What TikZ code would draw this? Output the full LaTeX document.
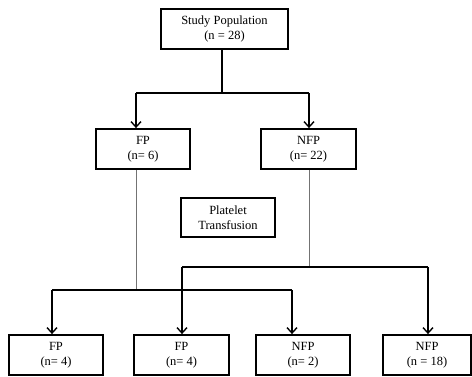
\documentclass[tikz,border=0pt]{standalone}
\usepackage{fontspec}
\setmainfont{Liberation Serif}
\usetikzlibrary{arrows.meta}
\begin{document}
\begin{tikzpicture}[x=1pt,y=-1pt,
  box/.style={draw=black,line width=1.8pt,minimum height=40pt,inner sep=0pt,
    align=center,font=\fontsize{12.5}{14.5}\selectfont},
  feed/.style={draw=black,line width=1.6pt},
  split/.style={draw=black!55,line width=0.9pt},
  arr/.style={feed,-{Straight Barb[length=5.5pt,width=10pt,line width=1.4pt]}}]
\useasboundingbox (0,0) rectangle (472,377);

% boxes
\node[box,minimum width=127pt] (pop) at (224.5,29) {Study Population\\(n = 28)};
\node[box,minimum width=94pt] (fp) at (143,149) {FP\\(n= 6)};
\node[box,minimum width=95pt] (nfp) at (308.5,149) {NFP\\(n= 22)};
\node[box,minimum width=94pt,minimum height=39pt,line width=1.5pt] (plt) at (228,217.5) {Platelet\\Transfusion};
\node[box,minimum width=94pt] (b1) at (56,355) {FP\\(n= 4)};
\node[box,minimum width=95pt] (b2) at (181.5,355) {FP\\(n= 4)};
\node[box,minimum width=94pt] (b3) at (303,355) {NFP\\(n= 2)};
\node[box,minimum width=88pt] (b4) at (427,355) {NFP\\(n = 18)};

% junction points
\coordinate (t0) at (222,93);
\coordinate (tl) at (136,93);
\coordinate (tr) at (309,93);
\coordinate (gl) at (136,290);
\coordinate (gr) at (309,267);
\coordinate (l1) at (52,290);
\coordinate (l2) at (292,290);
\coordinate (r1) at (182,267);
\coordinate (r2) at (428,267);

% first split
\draw[feed] (pop.south -| t0) -- (t0);
\draw[feed] (tl) -- (tr);
\draw[arr] (tl) -- (fp.north -| tl);
\draw[arr] (tr) -- (nfp.north -| tr);

% thin drops from the groups
\draw[split] (fp.south -| gl) -- (gl);
\draw[split] (nfp.south -| gr) -- (gr);

% second split, FP group
\draw[feed] (l1) -- (l2);
\draw[arr] (l1) -- (b1.north -| l1);
\draw[arr] (l2) -- (b3.north -| l2);

% second split, NFP group
\draw[feed] (r1) -- (r2);
\draw[arr] (r1) -- (b2.north -| r1);
\draw[arr] (r2) -- (b4.north -| r2);
\end{tikzpicture}
\end{document}
